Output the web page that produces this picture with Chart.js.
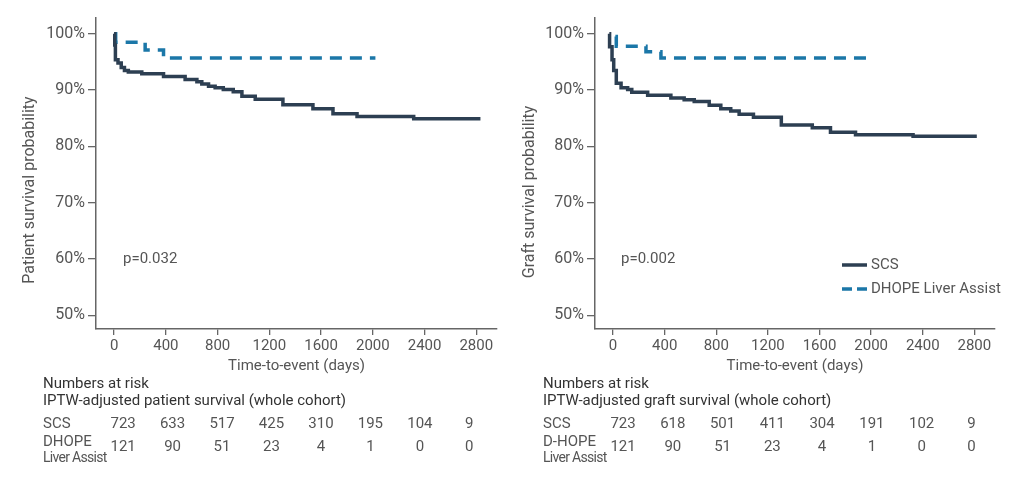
<!DOCTYPE html>
<html><head><meta charset="utf-8">
<script src="https://cdn.jsdelivr.net/npm/chart.js@4"></script>
<style>
html,body{margin:0;padding:0;background:#fff;}
#wrap{position:relative;width:1024px;height:481px;overflow:hidden;}
.box{position:absolute;top:0;width:512px;height:481px;}
</style></head><body>
<div id="wrap">
<div class="box" style="left:0"><canvas id="c1"></canvas></div>
<div class="box" style="left:512px"><canvas id="c2"></canvas></div>
</div>
<script>
// ---- tick labels ----
const xTicks = [0, 400, 800, 1200, 1600, 2000, 2400, 2800];
const yTicks = [50, 60, 70, 80, 90, 100];

// ---- Patient survival (left) ----
const patientScsDays = [0, 5, 10, 30, 55, 80, 110, 214, 382, 549, 640, 678, 730, 781, 844, 921, 988, 1091, 1305, 1537, 1692, 1878, 2316, 2832];
const patientScsSurv = [100, 98, 95.4, 94.8, 94.0, 93.5, 93.2, 92.9, 92.4, 91.9, 91.5, 91.1, 90.7, 90.4, 90.1, 89.7, 88.9, 88.4, 87.4, 86.7, 85.8, 85.3, 84.9, 84.9];
const patientDhopeDays = [0, 12, 188, 240, 382, 2020];
const patientDhopeSurv = [100, 98.5, 98.1, 97.1, 95.7, 95.7];

// ---- Graft survival (right) ----
const graftScsDays = [-29, -27, -8, 5, 25, 62, 113, 145, 268, 448, 551, 629, 745, 835, 912, 977, 1088, 1304, 1544, 1685, 1879, 2325, 2819];
const graftScsSurv = [100, 97.7, 95.4, 93.5, 91.2, 90.4, 90.1, 89.6, 89.1, 88.6, 88.3, 88.0, 87.3, 86.7, 86.3, 85.7, 85.2, 83.8, 83.3, 82.5, 82.1, 81.8, 81.8];
const graftDhopeDays = [18, 25, 255, 371, 2020];
const graftDhopeSurv = [99.5, 97.8, 96.8, 95.7, 95.7];

// ---- Numbers at risk ----
const patientRiskScs = [723, 633, 517, 425, 310, 195, 104, 9];
const patientRiskDhope = [121, 90, 51, 23, 4, 1, 0, 0];
const graftRiskScs = [723, 618, 501, 411, 304, 191, 102, 9];
const graftRiskDhope = [121, 90, 51, 23, 4, 1, 0, 0];

const SCS_COLOR = '#2d3f52';
const DHOPE_COLOR = '#1b77a8';
const TEXT = '#555555';
const DARK = '#333333';
const FONT = 'Roboto, "Open Sans", sans-serif';
const DASH = [12, 8];

function pts(xs, ys) { return xs.map((x, i) => ({x: x, y: ys[i]})); }

function makeChart(id, o) {
  const tablePlugin = {
    id: 'extras' + id,
    afterDraw(chart) {
      const ctx = chart.ctx;
      const xs = chart.scales.x;
      ctx.save();
      // y-axis title
      ctx.fillStyle = TEXT;
      ctx.font = '16px ' + FONT;
      ctx.translate(o.yTitleX, o.yTitleY);
      ctx.rotate(-Math.PI / 2);
      ctx.textAlign = 'center';
      ctx.textBaseline = 'middle';
      ctx.fillText(o.yTitle, 0, 0);
      ctx.restore();

      ctx.save();
      ctx.fillStyle = TEXT;
      ctx.font = '15px ' + FONT;
      ctx.textBaseline = 'middle';
      ctx.textAlign = 'left';
      ctx.fillText(o.pText, o.pX, 259);

      // legend
      if (o.legend) {
        const lx = o.legendX;
        [[SCS_COLOR, false, 'SCS', 265], [DHOPE_COLOR, true, 'DHOPE Liver Assist', 289]].forEach(l => {
          ctx.save();
          ctx.strokeStyle = l[0];
          ctx.lineWidth = 3.5;
          ctx.setLineDash(l[1] ? [10, 5] : []);
          ctx.beginPath();
          ctx.moveTo(lx, l[3]);
          ctx.lineTo(lx + 25, l[3]);
          ctx.stroke();
          ctx.restore();
          ctx.fillStyle = TEXT;
          ctx.font = '15px ' + FONT;
          ctx.fillText(l[2], lx + 29, l[3]);
        });
      }

      // numbers at risk
      ctx.fillStyle = DARK;
      ctx.font = '15px ' + FONT;
      ctx.fillText('Numbers at risk', o.tableX, 384);
      ctx.fillText(o.tableTitle, o.tableX, 401);
      ctx.fillStyle = TEXT;
      ctx.fillText('SCS', o.tableX, 424);
      ctx.fillText(o.dhopeLabel, o.tableX, 442);
      ctx.save();
      ctx.font = '14px ' + FONT;
      if ('letterSpacing' in ctx) ctx.letterSpacing = '-0.7px';
      ctx.fillText('Liver Assist', o.tableX, 458);
      ctx.restore();
      const a = xs.getPixelForValue(xTicks[0]) + o.colStart;
      const b = xs.getPixelForValue(xTicks[xTicks.length - 1]) + o.colEnd;
      ctx.textAlign = 'center';
      o.riskScs.forEach((v, i) => {
        const x = a + i * (b - a) / (xTicks.length - 1);
        ctx.fillText(String(v), x, 424);
        ctx.fillText(String(o.riskDhope[i]), x, 447);
      });
      ctx.restore();
    }
  };

  return new Chart(document.getElementById(id), {
    type: 'line',
    data: {
      datasets: [
        {label: 'SCS', data: pts(o.scsDays, o.scsSurv), borderColor: SCS_COLOR, borderWidth: 3.5,
         stepped: 'before', pointRadius: 0, fill: false, borderCapStyle: 'butt'},
        {label: 'DHOPE Liver Assist', data: pts(o.dhDays, o.dhSurv), borderColor: DHOPE_COLOR, borderWidth: 3.5,
         borderDash: DASH, stepped: 'before', pointRadius: 0, fill: false}
      ]
    },
    options: {
      responsive: true,
      maintainAspectRatio: false,
      animation: false,
      events: [],
      layout: {padding: {left: 0, right: o.padRight, top: 18, bottom: 106}},
      plugins: {legend: {display: false}, tooltip: {enabled: false}},
      scales: {
        x: {
          type: 'linear', min: -140, max: 2960,
          afterBuildTicks: s => { s.ticks = xTicks.map(v => ({value: v})); },
          afterFit: s => { s.height = 46; },
          grid: {display: true, drawOnChartArea: false, drawTicks: true, tickLength: 6, color: '#666', lineWidth: 1.3},
          border: {display: true, color: '#666', width: 1.5},
          ticks: {color: TEXT, font: {family: FONT, size: 15}, padding: 2, maxRotation: 0, autoSkip: false,
                  callback: v => String(v)},
          title: {display: true, text: 'Time-to-event (days)', color: TEXT, font: {family: FONT, size: 15}, padding: 0}
        },
        y: {
          type: 'linear', min: 47.6, max: 102.8,
          afterBuildTicks: s => { s.ticks = yTicks.map(v => ({value: v})); },
          afterFit: s => { s.width = o.yWidth; },
          grid: {display: true, drawOnChartArea: false, drawTicks: true, tickLength: 8, color: '#666', lineWidth: 1.3},
          border: {display: true, color: '#666', width: 1.5},
          ticks: {color: TEXT, font: {family: FONT, size: 16}, padding: 3, callback: v => v + '%'}
        }
      }
    },
    plugins: [tablePlugin]
  });
}

makeChart('c1', {
  scsDays: patientScsDays, scsSurv: patientScsSurv, dhDays: patientDhopeDays, dhSurv: patientDhopeSurv,
  yWidth: 96, padRight: 15, yTitle: 'Patient survival probability', yTitleX: 30, yTitleY: 190,
  pText: 'p=0.032', pX: 123, legend: false,
  tableX: 43, tableTitle: 'IPTW-adjusted patient survival (whole cohort)', dhopeLabel: 'DHOPE',
  riskScs: patientRiskScs, riskDhope: patientRiskDhope, colStart: 9, colEnd: -7
});
makeChart('c2', {
  scsDays: graftScsDays, scsSurv: graftScsSurv, dhDays: graftDhopeDays, dhSurv: graftDhopeSurv,
  yWidth: 83, padRight: 29, yTitle: 'Graft survival probability', yTitleX: 18, yTitleY: 192,
  pText: 'p=0.002', pX: 109, legend: true, legendX: 330,
  tableX: 31, tableTitle: 'IPTW-adjusted graft survival (whole cohort)', dhopeLabel: 'D-HOPE',
  riskScs: graftRiskScs, riskDhope: graftRiskDhope, colStart: 10, colEnd: -3
});
</script>
</body></html>
